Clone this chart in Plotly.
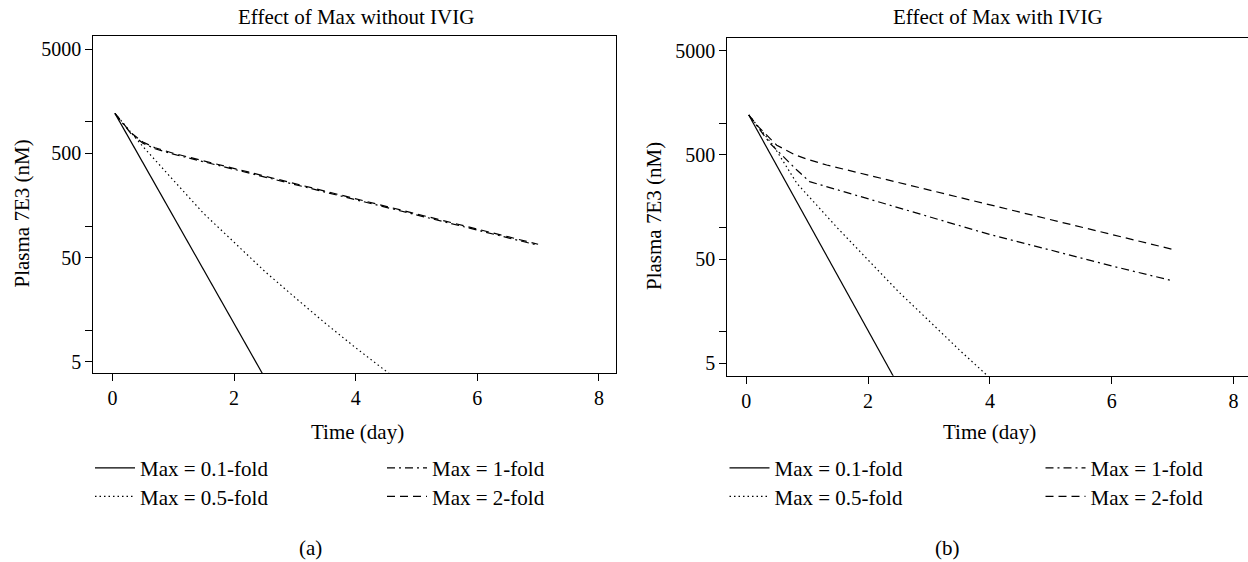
import plotly.graph_objects as go

FONT = "Liberation Serif"
W, H = 1248, 562

# ---------------- data ----------------
series_names = ["Max = 0.1-fold", "Max = 0.5-fold", "Max = 1-fold", "Max = 2-fold"]

# Panel (a): without IVIG
a_t_01 = [0.04, 0.5, 1.0, 1.5, 2.0, 2.6]
a_v_01 = [1208, 406, 124, 38, 11.6, 2.8]
a_t_05 = [0.04, 0.5, 1.0, 1.5, 2.0, 2.5, 3.0, 3.5, 4.0, 4.5, 4.7]
a_v_05 = [1208, 580, 276, 132, 70, 37, 20.7, 11.7, 6.8, 4.06, 3.3]
a_t_1 = [0.04, 0.15, 0.3, 0.5, 0.7, 1.0, 2.0, 3.0, 4.0, 5.0, 6.0, 7.0]
a_v_1 = [1208, 990, 775, 625, 552, 490, 350, 251, 179, 128, 92, 65.5]
a_t_2 = [0.04, 0.15, 0.3, 0.5, 0.7, 1.0, 2.0, 3.0, 4.0, 5.0, 6.0, 7.0]
a_v_2 = [1208, 1000, 790, 640, 565, 500, 357, 256, 183, 131, 94, 67]

# Panel (b): with IVIG
b_t_01 = [0.04, 0.5, 1.0, 1.5, 2.0, 2.5]
b_v_01 = [1208, 394, 117, 34.7, 10.3, 3.05]
b_t_05 = [0.04, 0.44, 0.83, 1.0, 1.5, 2.0, 2.5, 3.0, 3.5, 4.1]
b_v_05 = [1208, 620, 267, 207, 99, 49, 24.3, 12.8, 6.7, 3.2]
b_t_1 = [0.04, 0.2, 0.39, 0.6, 0.83, 1.04, 2.0, 3.0, 4.0, 5.0, 6.0, 7.0]
b_v_1 = [1208, 900, 646, 487, 358, 277, 190, 128, 86, 61, 43, 31]
b_t_2 = [0.04, 0.2, 0.5, 0.8, 1.0, 1.32, 2.0, 3.0, 4.0, 5.0, 6.0, 7.0]
b_v_2 = [1208, 930, 620, 500, 455, 400, 320, 230, 166, 119, 86, 62]

x_ticks = [0, 2, 4, 6, 8]
y_ticks = [5, 10, 50, 100, 500, 1000, 5000]
y_ticktext = ["5", "", "50", "", "500", "", "5000"]

panel_titles = ["Effect of Max without IVIG", "Effect of Max with IVIG"]
x_title = "Time (day)"
y_title = "Plasma 7E3 (nM)"
captions = ["(a)", "(b)"]

# ---------------- styling ----------------
dashes = ["solid", "1.5px,3px", "8px,4px,2px,4px", "8px,5px"]
ranks = [1, 3, 2, 4]

fig = go.Figure()

panels = [
    ([a_t_01, a_t_05, a_t_1, a_t_2], [a_v_01, a_v_05, a_v_1, a_v_2], "x", "y",
     ["legend", "legend3", "legend2", "legend4"]),
    ([b_t_01, b_t_05, b_t_1, b_t_2], [b_v_01, b_v_05, b_v_1, b_v_2], "x2", "y2",
     ["legend5", "legend7", "legend6", "legend8"]),
]
for ts, vs, xa, ya, legs in panels:
    for i in range(4):
        fig.add_trace(go.Scatter(
            x=ts[i], y=vs[i], mode="lines", name=series_names[i],
            line=dict(color="black", width=1.2, dash=dashes[i]),
            xaxis=xa, yaxis=ya, legend=legs[i], legendrank=ranks[i],
            showlegend=True, hoverinfo="skip",
        ))


def px_x(p):
    return p / W


def px_y(p):
    return (H - p) / H


axis_common = dict(
    showgrid=False, zeroline=False, showline=True, linecolor="black", linewidth=1,
    ticks="outside", ticklen=7, tickwidth=1, tickcolor="black",
    tickfont=dict(family=FONT, size=20, color="black"),
)

fig.update_layout(
    width=W, height=H,
    margin=dict(l=0, r=0, t=0, b=0),
    paper_bgcolor="white", plot_bgcolor="white",
    font=dict(family=FONT, size=20, color="black"),
    hovermode=False,
    xaxis=dict(domain=[px_x(93.3), px_x(616)], anchor="y", range=[-0.316, 8.281],
               tickvals=x_ticks, mirror=True, **axis_common),
    yaxis=dict(domain=[px_y(373.3), px_y(36)], anchor="x", type="log", range=[0.588, 3.824],
               tickvals=y_ticks, ticktext=y_ticktext, mirror=True, **axis_common),
    xaxis2=dict(domain=[px_x(727.3), 1.0], anchor="y2", range=[-0.312, 8.238],
                tickvals=x_ticks, mirror=True, **axis_common),
    yaxis2=dict(domain=[px_y(375.7), px_y(38)], anchor="x2", type="log", range=[0.580, 3.821],
                tickvals=y_ticks, ticktext=y_ticktext, mirror=False, **axis_common),
)

TXT = 21
leg_common = dict(xanchor="left", yanchor="middle", orientation="v",
                  bgcolor="rgba(0,0,0,0)", borderwidth=0, tracegroupgap=0,
                  font=dict(family=FONT, size=TXT, color="black"), itemwidth=40)
fig.update_layout(
    legend=dict(x=px_x(90), y=px_y(468.3), **leg_common),
    legend2=dict(x=px_x(382), y=px_y(468.3), **leg_common),
    legend3=dict(x=px_x(90), y=px_y(496.7), **leg_common),
    legend4=dict(x=px_x(382), y=px_y(496.7), **leg_common),
    legend5=dict(x=px_x(724.5), y=px_y(468.3), **leg_common),
    legend6=dict(x=px_x(1040.5), y=px_y(468.3), **leg_common),
    legend7=dict(x=px_x(724.5), y=px_y(496.7), **leg_common),
    legend8=dict(x=px_x(1040.5), y=px_y(496.7), **leg_common),
)

ann = []
ann.append(dict(x=px_x(355.7), y=px_y(16.5), text=panel_titles[0]))
ann.append(dict(x=px_x(998), y=px_y(16.5), text=panel_titles[1]))
ann.append(dict(x=px_x(357), y=px_y(431.7), text=x_title))
ann.append(dict(x=px_x(989), y=px_y(432), text=x_title))
ann.append(dict(x=px_x(22), y=px_y(213.5), text=y_title, textangle=-90))
ann.append(dict(x=px_x(654), y=px_y(216), text=y_title, textangle=-90))
ann.append(dict(x=px_x(310), y=px_y(548), text=captions[0]))
ann.append(dict(x=px_x(947), y=px_y(548), text=captions[1]))
for a in ann:
    a.update(xref="paper", yref="paper", xanchor="center", yanchor="middle",
             showarrow=False, font=dict(family=FONT, size=TXT, color="black"))
fig.update_layout(annotations=ann)

# remove the default 8px page margin so the figure fills the window exactly
fig.write_html("out.html", config={"displayModeBar": False},
               post_script="document.body.style.margin='0px';")
